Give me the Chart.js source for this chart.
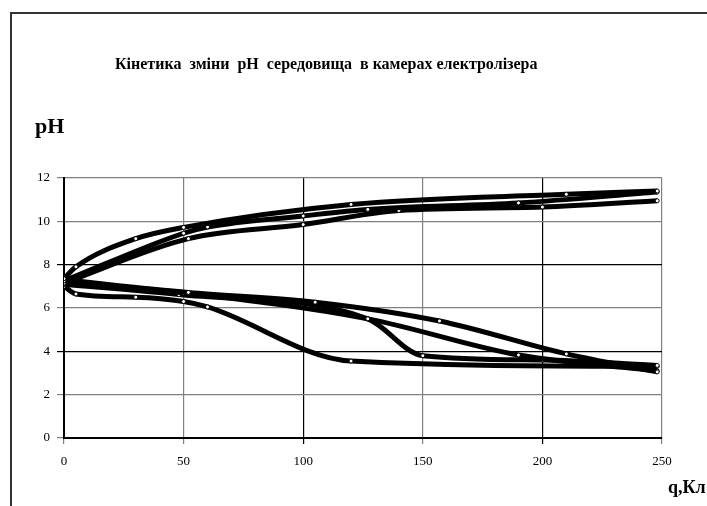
<!DOCTYPE html>
<html>
<head>
<meta charset="utf-8">
<script src="https://cdn.jsdelivr.net/npm/chart.js@4/dist/chart.umd.min.js"></script>
<style>
  body { margin: 0; background: #fff; }
  #wrap { position: relative; width: 707px; height: 506px; overflow: hidden; background: #fff; }
  #frame { position: absolute; left: 10px; top: 12px; width: 720px; height: 520px;
           border-left: 2px solid #333; border-top: 2px solid #333; }
  canvas { position: absolute; left: 0; top: 0; }
  .lbl { position: absolute; font-family: "Liberation Serif", "Times New Roman", serif;
         font-weight: bold; color: #000; white-space: pre; }
  #title { left: 115px; top: 55px; font-size: 16px; }
  #ylab { left: 35px; top: 113px; font-size: 22px; }
  #xlab { left: 668px; top: 477px; font-size: 18px; }
</style>
</head>
<body>
<div id="wrap">
  <div id="frame"></div>
  <canvas id="phChart" width="707" height="506"></canvas>
  <div id="title" class="lbl">Кінетика  зміни  pH  середовища  в камерах електролізера</div>
  <div id="ylab" class="lbl">pH</div>
  <div id="xlab" class="lbl">q,Кл</div>
</div>
<script>
// Axis ticks
const xTicks = [0, 50, 100, 150, 200, 250];
const yTicks = [0, 2, 4, 6, 8, 10, 12];

// Cathode chamber (pH rises)
const qUp1 = [0, 5, 30, 50, 120, 210, 248];
const phUp1 = [7.35, 7.9, 9.2, 9.72, 10.78, 11.25, 11.4];
const qUp2 = [0, 50, 60, 100, 127, 190, 248];
const phUp2 = [7.25, 9.45, 9.74, 10.25, 10.55, 10.85, 11.35];
const qUp3 = [0, 52, 100, 140, 200, 248];
const phUp3 = [7.15, 9.2, 9.85, 10.5, 10.66, 10.95];

// Anode chamber (pH falls)
const qDown1 = [0, 52, 105, 157, 210, 248];
const phDown1 = [7.3, 6.72, 6.27, 5.4, 3.88, 3.05];
const qDown2 = [0, 50, 127, 190, 248];
const phDown2 = [7.2, 6.7, 5.5, 3.83, 3.1];
const qDown3 = [0, 48, 127, 150, 200, 248];
const phDown3 = [7.1, 6.62, 5.5, 3.8, 3.6, 3.35];
const qDown4 = [0, 5, 30, 50, 60, 120, 248];
const phDown4 = [7.0, 6.65, 6.5, 6.3, 6.05, 3.55, 3.3];

const seriesList = [
    [qUp1, phUp1], [qUp2, phUp2], [qUp3, phUp3],
    [qDown1, phDown1], [qDown2, phDown2], [qDown3, phDown3], [qDown4, phDown4]
];

// build a dataset from x and y arrays
function makeDataset(xs, ys) {
    return {
        data: xs.map((x, i) => ({ x: x, y: ys[i] })),
        borderColor: "#000",
        borderWidth: 5,
        cubicInterpolationMode: "monotone",
        pointRadius: 2,
        pointBorderWidth: 1,
        pointBorderColor: "#000",
        pointBackgroundColor: "#fff",
        fill: false,
    };
}

const serif = "'Liberation Serif', 'Times New Roman', serif";

new Chart(document.getElementById("phChart").getContext("2d"), {
    type: "line",
    data: { datasets: seriesList.map((s) => makeDataset(s[0], s[1])) },
    options: {
        responsive: false,
        animation: false,
        layout: { padding: { left: 0, top: 178, right: 45, bottom: 28 } },
        plugins: { legend: { display: false }, tooltip: { enabled: false } },
        scales: {
            x: {
                type: "linear",
                min: 0,
                max: 250,
                afterBuildTicks: (axis) => { axis.ticks = xTicks.map((v) => ({ value: v })); },
                afterFit: (axis) => { axis.height = 40; },
                ticks: { color: "#000", font: { family: serif, size: 13 }, padding: 10, maxRotation: 0 },
                grid: {
                    color: (c) => (c.tick && (c.tick.value === 100 || c.tick.value === 200) ? "#000" : "#808080"),
                    lineWidth: 1.2,
                    tickLength: 6,
                },
                border: { color: "#000", width: 2 },
            },
            y: {
                min: 0,
                max: 12,
                afterBuildTicks: (axis) => { axis.ticks = yTicks.map((v) => ({ value: v })); },
                afterFit: (axis) => { axis.width = 64; },
                ticks: { color: "#000", font: { family: serif, size: 13 }, padding: 7 },
                grid: {
                    color: (c) => (c.tick && (c.tick.value === 4 || c.tick.value === 8) ? "#000" : "#808080"),
                    lineWidth: 1.2,
                    tickLength: 7,
                },
                border: { color: "#000", width: 2 },
            },
        },
    },
});
</script>
</body>
</html>
